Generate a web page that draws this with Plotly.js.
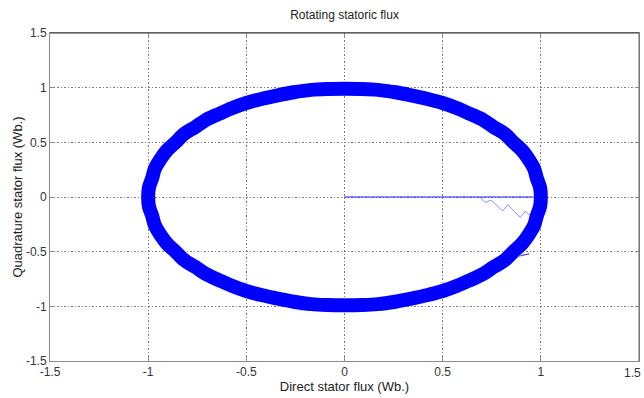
<!DOCTYPE html>
<html>
<head>
<meta charset="utf-8">
<script src="https://cdn.plot.ly/plotly-3.0.1.min.js"></script>
<style>html,body{margin:0;padding:0;background:#fff;}#chart{width:644px;height:398px;}</style>
</head>
<body>
<div id="chart"></div>
<script>
// Flux trajectory (band centre)
const fluxD = [1.00,0.996,0.98,0.966,0.94,0.906,0.86,0.819,0.76,0.707,0.64,0.574,0.50,0.423,0.34,0.259,0.17,0.087,0.00,-0.087,-0.17,-0.259,-0.34,-0.423,-0.50,-0.574,-0.64,-0.707,-0.76,-0.819,-0.86,-0.906,-0.94,-0.966,-0.98,-0.996,-1.00,-0.996,-0.98,-0.966,-0.94,-0.906,-0.86,-0.819,-0.76,-0.707,-0.64,-0.574,-0.50,-0.423,-0.34,-0.259,-0.17,-0.087,0.00,0.087,0.17,0.259,0.34,0.423,0.50,0.574,0.64,0.707,0.76,0.819,0.86,0.906,0.94,0.966,0.98,0.996,1.00];
const fluxQ = [0.00,0.087,0.17,0.259,0.34,0.423,0.50,0.574,0.64,0.704,0.76,0.812,0.86,0.897,0.93,0.958,0.98,0.988,0.99,0.988,0.98,0.958,0.93,0.897,0.86,0.812,0.76,0.704,0.64,0.574,0.50,0.423,0.34,0.259,0.17,0.087,0.00,-0.087,-0.17,-0.259,-0.34,-0.423,-0.50,-0.574,-0.64,-0.704,-0.76,-0.812,-0.86,-0.897,-0.93,-0.958,-0.98,-0.988,-0.99,-0.988,-0.98,-0.958,-0.93,-0.897,-0.86,-0.812,-0.76,-0.704,-0.64,-0.574,-0.50,-0.423,-0.34,-0.259,-0.17,-0.087,0.00];
// Start-up transient
const startD = [0.00, 0.96];
const startQ = [0.00, 0.00];
const zigD = [0.691,0.717,0.747,0.805,0.833,0.895,0.921,0.946];
const zigQ = [-0.005,-0.05,-0.028,-0.126,-0.071,-0.187,-0.132,-0.17];
const loopD = [0.88,0.94,0.90];
const loopQ = [-0.545,-0.52,-0.535];
const tickVals = [-1.5,-1,-0.5,0,0.5,1,1.5];
const tickText = ['-1.5','-1','-0.5','0','0.5','1','1.5'];

const traces = [
  {x: fluxD, y: fluxQ, mode: 'lines', line: {color: '#0000ff', width: 14, shape: 'spline', smoothing: 1}, hoverinfo: 'skip'},
  {x: startD, y: startQ, mode: 'lines', line: {color: '#1f1fff', width: 1.2}, hoverinfo: 'skip'},
  {x: zigD, y: zigQ, mode: 'lines', line: {color: 'rgba(60,60,255,0.6)', width: 1}, hoverinfo: 'skip'},
  {x: loopD, y: loopQ, mode: 'lines', line: {color: 'rgba(60,60,255,0.8)', width: 1}, hoverinfo: 'skip'}
];

const fontMain = 'Liberation Sans, Arial, sans-serif';
const axisCommon = {
  range: [-1.5, 1.5],
  tickmode: 'array',
  tickvals: tickVals,
  ticktext: tickText,
  showgrid: true,
  gridcolor: '#7a7a7a',
  griddash: '1.5px,2px',
  gridwidth: 1,
  zeroline: false,
  showline: true,
  linecolor: '#8c8c8c',
  linewidth: 1,
  mirror: 'ticks',
  ticks: 'inside',
  ticklen: 4,
  tickcolor: '#8c8c8c',
  tickfont: {family: fontMain, size: 12, color: '#333'},
  fixedrange: true
};

const layout = {
  width: 644, height: 398,
  margin: {l: 50, r: 5, t: 33, b: 37},
  paper_bgcolor: '#fff', plot_bgcolor: '#fff',
  showlegend: false,
  title: {text: 'Rotating statoric flux', x: 0.535, xanchor: 'center', y: 0.962, yanchor: 'middle',
          font: {family: 'Liberation Sans Narrow, Arial Narrow, Liberation Sans, Arial, sans-serif', size: 12, color: '#222'}},
  xaxis: Object.assign({}, axisCommon, {
    title: {text: 'Direct stator flux (Wb.)', standoff: 1,
            font: {family: fontMain, size: 13, color: '#222'}}
  }),
  yaxis: Object.assign({}, axisCommon, {
    title: {text: 'Quadrature stator flux (Wb.)', standoff: 0,
            font: {family: fontMain, size: 13, color: '#222'}}
  }),
  annotations: [
    {x: tickVals[tickVals.length - 1], xref: 'x', y: 0, yref: 'paper', yanchor: 'top', xanchor: 'right',
     xshift: 4, yshift: -3, text: tickText[tickText.length - 1], showarrow: false,
     font: {family: fontMain, size: 12, color: '#333'}}
  ],
  shapes: [
    {type: 'line', xref: 'paper', yref: 'paper', x0: 0, x1: 1, y0: 1, y1: 1, line: {color: '#333', width: 1}},
    {type: 'line', xref: 'paper', yref: 'paper', x0: 1, x1: 1, y0: 0, y1: 1, line: {color: '#666', width: 1}}
  ]
};

Plotly.newPlot('chart', traces, layout, {displayModeBar: false, staticPlot: true});
</script>
</body>
</html>
